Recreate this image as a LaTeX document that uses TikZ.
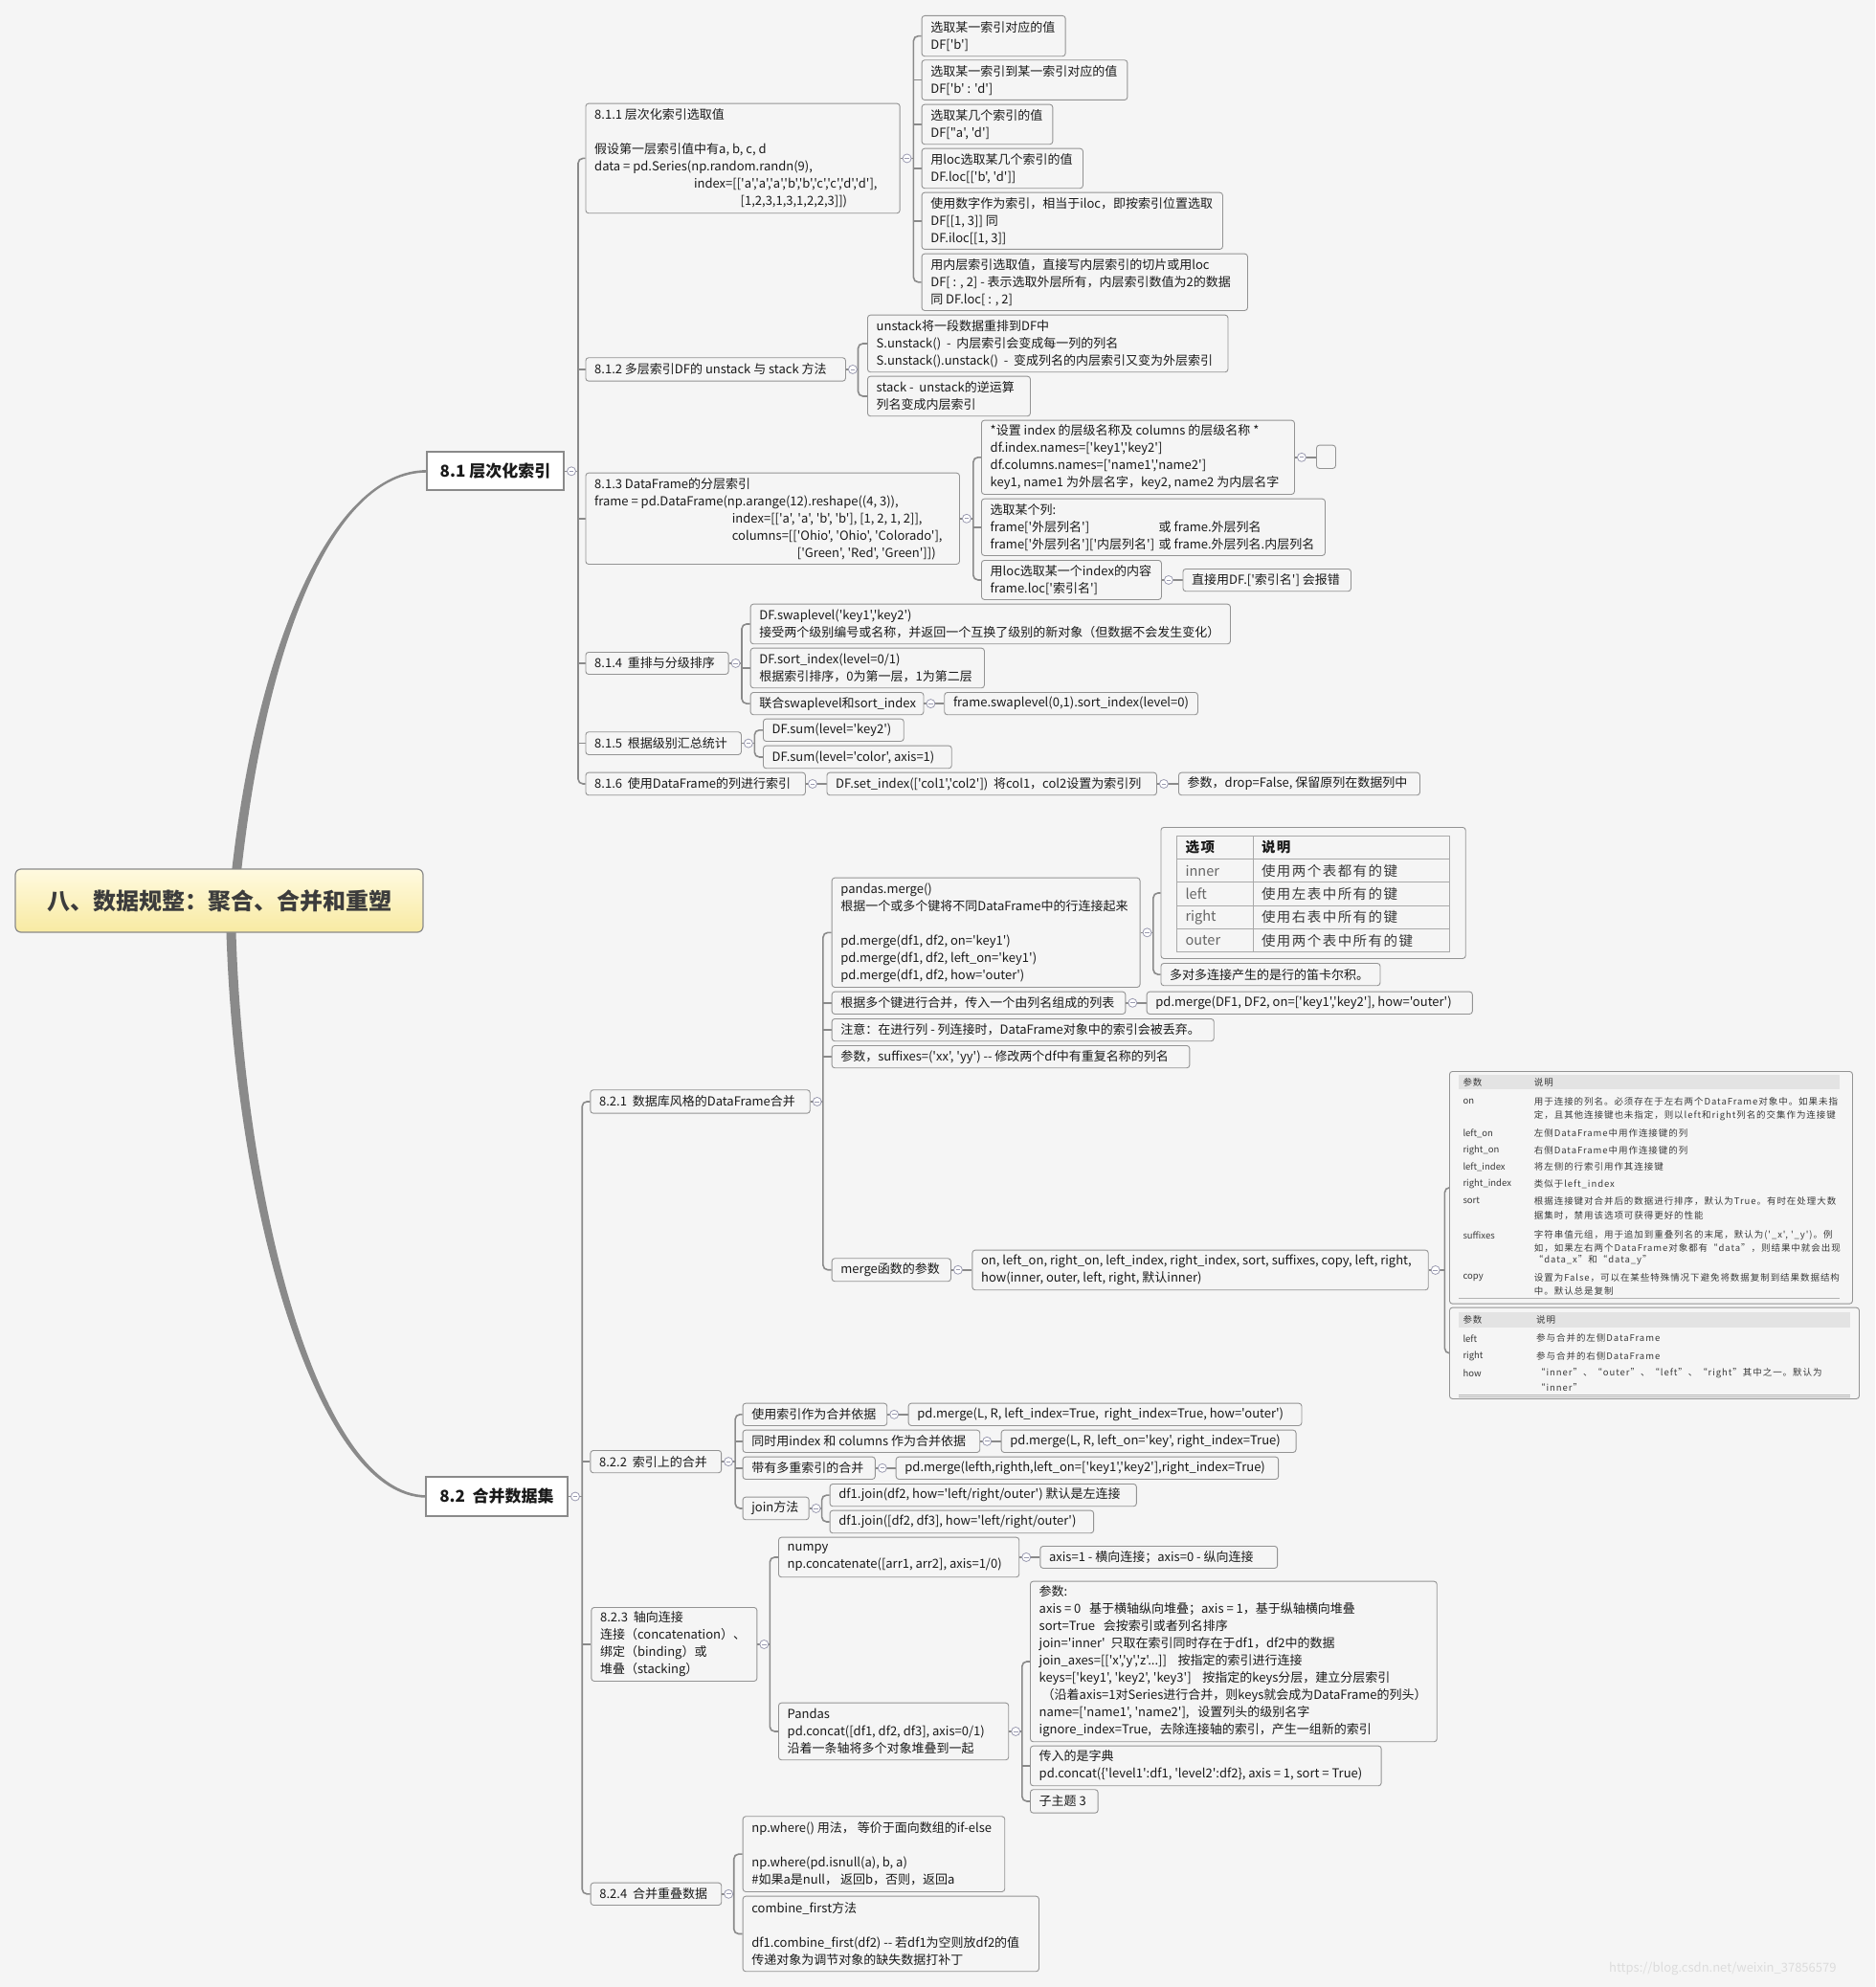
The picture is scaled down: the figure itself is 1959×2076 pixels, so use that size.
\documentclass[tikz,border=0pt]{standalone}
\usepackage{fontspec}
\setmainfont[Ligatures=TeXOff]{Noto Sans CJK SC}
\newfontfamily\tabfont[Ligatures=TeXOff,LetterSpace=10]{Noto Sans CJK SC}
\usetikzlibrary{backgrounds}
\definecolor{bgc}{HTML}{F5F5F5}
\definecolor{linec}{HTML}{8A8A8A}
\definecolor{boxc}{HTML}{939393}
\definecolor{txtc}{HTML}{1A1A1A}
\definecolor{togc}{HTML}{9A9AB0}
\definecolor{hdrc}{HTML}{E3E3E3}
\definecolor{rootc}{HTML}{3C3C3C}
\definecolor{ytop}{HTML}{FFFAE0}
\definecolor{ybot}{HTML}{F8EAA2}
\definecolor{tabc}{HTML}{3A3A3A}
\definecolor{wmc}{HTML}{DCDCDC}
\tikzset{
 conn/.style={draw=linec, line width=1.6pt},
 cbox/.style={draw=boxc, fill=bgc, line width=0.9pt, rounded corners=3pt, inner sep=0pt},
 txt/.style={font=\fontsize{13}{18}\selectfont, align=left, inner sep=0pt, text=txtc},
 tabtxt/.style={font=\tabfont\fontsize{9.5}{12}\selectfont, inner sep=0pt, text=tabc, anchor=west},
 tabkey/.style={font=\fontsize{9.5}{12}\selectfont, inner sep=0pt, text=tabc, anchor=west},
 bigtab/.style={font=\tabfont\fontsize{14.5}{18}\selectfont, inner sep=0pt, text=tabc, anchor=west},
 bigkey/.style={font=\fontsize{14.5}{18}\selectfont, inner sep=0pt, text=black!60, anchor=west},
 tabline/.style={draw=boxc!80, line width=0.8pt},
 tog/.style={circle, draw=togc, fill=white, line width=0.8pt, minimum size=9pt, inner sep=0pt,
   path picture={\draw[togc, line width=0.8pt] ([xshift=-2.3pt]path picture bounding box.center) -- ([xshift=2.3pt]path picture bounding box.center);}},
 sect/.style={draw=linec, fill=white, line width=2pt, inner sep=0pt, font=\fontsize{17}{20}\selectfont\bfseries, text=txtc},
 rootbox/.style={draw=linec, line width=1.2pt, rounded corners=6pt, top color=ytop, bottom color=ybot, font=\fontsize{24}{28}\selectfont\bfseries, text=rootc, inner sep=0pt},
}
\newcommand\tb[6]{%
  \pgfmathsetmacro\tbw{#4-#2}%
  \pgfmathsetmacro\tbh{#5-#3}%
  \node[cbox, anchor=north west, minimum width=\tbw pt, minimum height=\tbh pt] (#1) at (#2,#3) {};%
  \node[txt, anchor=west] (#1t) at ([xshift=9.5pt]#1.west) {#6};%
}
\newcommand\tg[2]{\node[tog] (#1) at ([xshift=7pt]#2.east) {};}
\newcommand\grp[6]{%
  \draw[conn] (#1.east) -- (#2.center) -- (#2 -| #3);%
  \draw[conn,rounded corners=5pt] (#4.west) -| (#3 |- #5.west) -- (#5.west);%
  \foreach \n in {#6} {\draw[conn] (#3 |- \n.west) -- (\n.west);}%
}
\newcommand\grptwo[5]{%
  \draw[conn] (#1.east) -- (#2.center) -- (#2 -| #3);%
  \draw[conn,rounded corners=5pt] (#4.west) -| (#3 |- #5.west) -- (#5.west);%
}
\newcommand\lnk[3]{\draw[conn] (#1.east) -- (#2.center) -- (#2 -| #3.west);}
\begin{document}
\begin{tikzpicture}[x=1pt,y=-1pt]
\useasboundingbox (0,0) rectangle (1959,2076);
\begin{pgfonlayer}{background}
\fill[bgc] (0,0) rectangle (1959,2076);
\end{pgfonlayer}
% ---------------- root and sections
\node[rootbox, minimum width=426pt, minimum height=66pt] (root) at (229,941) {八、数据规整：聚合、合并和重塑};
\node[sect, minimum width=143pt, minimum height=40pt] (s81) at (517.5,492.3) {8.1 层次化索引};
\node[sect, minimum width=148pt, minimum height=41pt] (s82) at (519,1563.5) {8.2\ \ 合并数据集};
% ---------------- 8.1
\tb{s811}{611.5}{107.7}{939.7}{222.3}{8.1.1 层次化索引选取值\\[18pt]假设第一层索引值中有a, b, c, d\\data = pd.Series(np.random.randn(9),\\\hspace*{103.8pt}index=[['a','a','a','b','b','c','c','d','d'],\\\hspace*{152.5pt}[1,2,3,1,3,1,2,2,3]])}
\tb{A1}{962.6}{16}{1112.7}{58.3}{选取某一索引对应的值\\DF['b']}
\tb{A2}{962.6}{62.3}{1177.4}{104}{选取某一索引到某一索引对应的值\\DF['b' : 'd']}
\tb{A3}{962.6}{108.7}{1099.4}{150.3}{选取某几个索引的值\\DF["a', 'd']}
\tb{A4}{962.6}{154.7}{1131}{196.3}{用loc选取某几个索引的值\\DF.loc[['b', 'd']]}
\tb{A5}{962.6}{200.7}{1277}{260}{使用数字作为索引，相当于iloc，即按索引位置选取\\DF[[1, 3]] 同\\DF.iloc[[1, 3]]}
\tb{A6}{962.6}{264.7}{1303}{324}{用内层索引选取值，直接写内层索引的切片或用loc\\DF[ : , 2] - 表示选取外层所有，内层索引数值为2的数据\\同 DF.loc[ : , 2]}
\tb{s812}{611.5}{373.3}{883}{397.7}{8.1.2 多层索引DF的 unstack 与 stack 方法}
\tb{B1}{906}{328.7}{1282.5}{388.3}{unstack将一段数据重排到DF中\\S.unstack()\ \ -\ \ 内层索引会变成每一列的列名\\S.unstack().unstack()\ \ -\ \ 变成列名的内层索引又变为外层索引}
\tb{B2}{906}{392.7}{1076}{434.3}{stack -\ \ unstack的逆运算\\列名变成内层索引}
\tb{s813}{611.5}{493.7}{1002}{589}{8.1.3 DataFrame的分层索引\\frame = pd.DataFrame(np.arange(12).reshape((4, 3)),\\\hspace*{143.7pt}index=[['a', 'a', 'b', 'b'], [1, 2, 1, 2]],\\\hspace*{143.7pt}columns=[['Ohio', 'Ohio', 'Colorado'],\\\hspace*{211.7pt}['Green', 'Red', 'Green']])}
\tb{C1}{1025}{438.7}{1352}{516}{*设置 index 的层级名称及 columns 的层级名称 *\\df.index.names=['key1','key2']\\df.columns.names=['name1','name2']\\key1, name1 为外层名字，key2, name2 为内层名字}
\tb{C1e}{1375}{464.7}{1395}{489}{}
\tb{C2}{1025}{520.7}{1384}{580}{选取某个列:\\\makebox[176pt][l]{frame['外层列名']}或 frame.外层列名\\\makebox[176pt][l]{frame['外层列名']['内层列名']}或 frame.外层列名.内层列名}
\tb{C3}{1025}{585}{1213}{626}{用loc选取某一个index的内容\\frame.loc['索引名']}
\tb{C3a}{1235.5}{594}{1411}{617.3}{直接用DF.['索引名'] 会报错}
\tb{s814}{611.5}{681}{760.7}{704}{8.1.4\ \ 重排与分级排序}
\tb{D1}{783.7}{630.7}{1285}{672.3}{DF.swaplevel('key1','key2')\\接受两个级别编号或名称，并返回一个互换了级别的新对象（但数据不会发生变化）}
\tb{D2}{783.7}{676.7}{1028}{718.3}{DF.sort\_index(level=0/1)\\根据索引排序，0为第一层，1为第二层}
\tb{D3}{783.7}{723}{964.5}{746.3}{联合swaplevel和sort\_index}
\tb{D3a}{986.3}{723}{1251}{746.3}{frame.swaplevel(0,1).sort\_index(level=0)}
\tb{s815}{611.5}{764.3}{774}{788}{8.1.5\ \ 根据级别汇总统计}
\tb{E1}{797}{750.7}{943.8}{774}{DF.sum(level='key2')}
\tb{E2}{797}{778.7}{993.8}{802.3}{DF.sum(level='color', axis=1)}
\tb{s816}{611.5}{806.7}{841}{830.3}{8.1.6\ \ 使用DataFrame的列进行索引}
\tb{F1}{863.5}{806.7}{1208}{830.3}{DF.set\_index(['col1','col2'])\ \ 将col1，col2设置为索引列}
\tb{F2}{1231}{806.7}{1483}{830.3}{参数，drop=False, 保留原列在数据列中}
% ---------------- 8.2.1
\tb{s821}{616.4}{1138.3}{845.8}{1162.7}{8.2.1\ \ 数据库风格的DataFrame合并}
\tb{G1}{868.7}{916.7}{1190.6}{1031}{pandas.merge()\\根据一个或多个键将不同DataFrame中的行连接起来\\[18pt]pd.merge(df1, df2, on='key1')\\pd.merge(df1, df2, left\_on='key1')\\pd.merge(df1, df2, how='outer')}
\node[cbox, anchor=north west, minimum width=318.3pt, minimum height=137pt] (Tab) at (1212.5,864) {};
\draw[tabline] (1229.4,873.3) rectangle (1514.2,994.3);
\foreach \yy in {897.3,921.7,946,970.7} \draw[tabline] (1229.4,\yy) -- (1514.2,\yy);
\draw[tabline] (1308.9,873.3) -- (1308.9,994.3);
\node[bigtab, font=\tabfont\fontsize{14.5}{18}\selectfont\bfseries, text=txtc] (Th1) at (1238.4,885.3) {选项};
\node[bigtab, font=\tabfont\fontsize{14.5}{18}\selectfont\bfseries, text=txtc] (Th2) at (1317.8,885.3) {说明};
\node[bigkey] (Tr1) at (1238.4,909.5) {inner};
\node[bigtab] (Td1) at (1317.8,909.5) {使用两个表都有的键};
\node[bigkey] (Tr2) at (1238.4,933.9) {left};
\node[bigtab] (Td2) at (1317.8,933.9) {使用左表中所有的键};
\node[bigkey] (Tr3) at (1238.4,958.4) {right};
\node[bigtab] (Td3) at (1317.8,958.4) {使用右表中所有的键};
\node[bigkey] (Tr4) at (1238.4,982.5) {outer};
\node[bigtab] (Td4) at (1317.8,982.5) {使用两个表中所有的键};
\tb{G2}{1212.5}{1006}{1441.5}{1029.3}{多对多连接产生的是行的笛卡尔积。}
\tb{G3}{868.7}{1035.7}{1175.4}{1059}{根据多个键进行合并，传入一个由列名组成的列表}
\tb{G3a}{1197.7}{1035.7}{1537.9}{1059}{pd.merge(DF1, DF2, on=['key1','key2'], how='outer')}
\tb{G4}{868.7}{1064}{1267.8}{1087.3}{注意：在进行列 - 列连接时，DataFrame对象中的索引会被丢弃。}
\tb{G5}{868.7}{1092}{1242.4}{1115.3}{参数，suffixes=('xx', 'yy') -- 修改两个df中有重复名称的列名}
\tb{G6}{868.7}{1314.3}{993}{1338.3}{merge函数的参数}
\tb{G6a}{1015.4}{1305.7}{1491.8}{1347.3}{on, left\_on, right\_on, left\_index, right\_index, sort, suffixes, copy, left, right,\\how(inner, outer, left, right, 默认inner)}
% table T1
\node[cbox, anchor=north west, minimum width=421pt, minimum height=242.7pt] (T1) at (1514,1119) {};
\fill[hdrc] (1524,1123.3) rectangle (1921.7,1138.3);
\draw[draw=boxc!70, line width=0.8pt] (1524,1356.7) -- (1921.7,1356.7);
\node[tabtxt] (T1h1) at (1528.3,1130.8) {参数};
\node[tabtxt] (T1h2) at (1602.7,1130.8) {说明};
\node[tabkey] (T1p1) at (1528.3,1151) {on};
\node[tabtxt] (T1d1) at (1602.7,1151) {用于连接的列名。必须存在于左右两个DataFrame对象中。如果未指};
\node[tabtxt] (T1d1b) at (1602.7,1166) {定，且其他连接键也未指定，则以left和right列名的交集作为连接键};
\node[tabkey] (T1p2) at (1528.3,1184) {left\_on};
\node[tabtxt] (T1d2) at (1602.7,1184) {左侧DataFrame中用作连接键的列};
\node[tabkey] (T1p3) at (1528.3,1201.7) {right\_on};
\node[tabtxt] (T1d3) at (1602.7,1201.7) {右侧DataFrame中用作连接键的列};
\node[tabkey] (T1p4) at (1528.3,1219.3) {left\_index};
\node[tabtxt] (T1d4) at (1602.7,1219.3) {将左侧的行索引用作其连接键};
\node[tabkey] (T1p5) at (1528.3,1237) {right\_index};
\node[tabtxt] (T1d5) at (1602.7,1237) {类似于left\_index};
\node[tabkey] (T1p6) at (1528.3,1254.7) {sort};
\node[tabtxt] (T1d6) at (1602.7,1254.7) {根据连接键对合并后的数据进行排序，默认为True。有时在处理大数};
\node[tabtxt] (T1d6b) at (1602.7,1270) {据集时，禁用该选项可获得更好的性能};
\node[tabkey] (T1p7) at (1528.3,1290.3) {suffixes};
\node[tabtxt] (T1d7) at (1602.7,1290.3) {字符串值元组，用于追加到重叠列名的末尾，默认为('\_x', '\_y')。例};
\node[tabtxt] (T1d7b) at (1602.7,1303.5) {如，如果左右两个DataFrame对象都有“data”，则结果中就会出现};
\node[tabtxt] (T1d7c) at (1602.7,1316.7) {“data\_x”和“data\_y”};
\node[tabkey] (T1p8) at (1528.3,1335) {copy};
\node[tabtxt] (T1d8) at (1602.7,1335) {设置为False，可以在某些特殊情况下避免将数据复制到结果数据结构};
\node[tabtxt] (T1d8b) at (1602.7,1348.5) {中。默认总是复制};
% table T2
\node[cbox, anchor=north west, minimum width=428pt, minimum height=95.3pt] (T2) at (1514,1365.7) {};
\fill[hdrc] (1524,1370.7) rectangle (1932.7,1386.7);
\draw[draw=boxc!70, line width=0.8pt] (1524,1457.2) -- (1932.7,1457.2);
\draw[draw=boxc!70, line width=0.8pt] (1524,1459.6) -- (1932.7,1459.6);
\node[tabtxt] (T2h1) at (1528.3,1378.7) {参数};
\node[tabtxt] (T2h2) at (1605,1378.7) {说明};
\node[tabkey] (T2p1) at (1528.3,1398.3) {left};
\node[tabtxt] (T2d1) at (1605,1398.3) {参与合并的左侧DataFrame};
\node[tabkey] (T2p2) at (1528.3,1416.7) {right};
\node[tabtxt] (T2d2) at (1605,1416.7) {参与合并的右侧DataFrame};
\node[tabkey] (T2p3) at (1528.3,1435) {how};
\node[tabtxt] (T2d3) at (1605,1435) {“inner”、“outer”、“left”、“right”其中之一。默认为};
\node[tabtxt] (T2d3b) at (1605,1449.3) {“inner”};
% ---------------- 8.2.2
\tb{s822}{616.4}{1515}{753.2}{1538.3}{8.2.2\ \ 索引上的合并}
\tb{H1}{775.6}{1465.7}{926.3}{1489}{使用索引作为合并依据}
\tb{H1a}{948.7}{1465.7}{1359.5}{1489}{pd.merge(L, R, left\_index=True,\ \ right\_index=True, how='outer')}
\tb{H2}{775.6}{1493.7}{1023.3}{1517}{同时用index 和 columns 作为合并依据}
\tb{H2a}{1045.7}{1493.7}{1353.6}{1517}{pd.merge(L, R, left\_on='key', right\_index=True)}
\tb{H3}{775.6}{1521.7}{913.9}{1545}{带有多重索引的合并}
\tb{H3a}{935.7}{1521.7}{1335.2}{1545}{pd.merge(lefth,righth,left\_on=['key1','key2'],right\_index=True)}
\tb{H4}{775.6}{1563.7}{844.7}{1587.3}{join方法}
\tb{H4a}{866.6}{1550}{1186.9}{1573.3}{df1.join(df2, how='left/right/outer') 默认是左连接}
\tb{H4b}{866.6}{1577.7}{1142.2}{1601.3}{df1.join([df2, df3], how='left/right/outer')}
% ---------------- 8.2.3
\tb{s823}{617.4}{1679}{790.4}{1756}{8.2.3\ \ 轴向连接\\连接（concatenation）、\\绑定（binding）或\\堆叠（stacking）}
\tb{I1}{813}{1605.7}{1064.3}{1647.3}{numpy\\np.concatenate([arr1, arr2], axis=1/0)}
\tb{I1a}{1086.4}{1615}{1334.2}{1638}{axis=1 - 横向连接；axis=0 - 纵向连接}
\tb{I2}{813}{1778.7}{1053.3}{1838.3}{Pandas\\pd.concat([df1, df2, df3], axis=0/1)\\沿着一条轴将多个对象堆叠到一起}
\tb{I2a}{1076}{1651.7}{1500.8}{1819.3}{参数:\\axis = 0\ \ \ 基于横轴纵向堆叠；axis = 1，基于纵轴横向堆叠\\sort=True\ \ \ 会按索引或者列名排序\\join='inner'\ \ 只取在索引同时存在于df1，df2中的数据\\join\_axes=[['x','y','z'...]]\ \ \ \ 按指定的索引进行连接\\keys=['key1', 'key2', 'key3']\ \ \ \ 按指定的keys分层，建立分层索引\\\hspace*{3pt}（沿着axis=1对Series进行合并，则keys就会成为DataFrame的列头）\\name=['name1', 'name2'],\ \ \ 设置列头的级别名字\\ignore\_index=True,\ \ \ 去除连接轴的索引，产生一组新的索引}
\tb{I2b}{1076}{1823.7}{1442.7}{1865.3}{传入的是字典\\pd.concat(\{'level1':df1, 'level2':df2\}, axis = 1, sort = True)}
\tb{I2c}{1076}{1869.3}{1146.7}{1893.7}{子主题 3}
% ---------------- 8.2.4
\tb{s824}{616.7}{1966.7}{753.3}{1990}{8.2.4\ \ 合并重叠数据}
\tb{J1}{775.7}{1897.3}{1049.3}{1976}{np.where() 用法， 等价于面向数组的if-else\\[18pt]np.where(pd.isnull(a), b, a)\\\#如果a是null， 返回b，否则，返回a}
\tb{J2}{775.7}{1980.7}{1085}{2059.3}{combine\_first方法\\[18pt]df1.combine\_first(df2) -- 若df1为空则放df2的值\\传递对象为调节对象的缺失数据打补丁}
% ---------------- toggles
\tg{t81}{s81} \tg{t82}{s82}
\tg{t811}{s811} \tg{t812}{s812} \tg{t813}{s813} \tg{t814}{s814} \tg{t815}{s815} \tg{t816}{s816}
\tg{tC1}{C1} \tg{tC3}{C3} \tg{tD3}{D3} \tg{tF1}{F1}
\tg{t821}{s821} \tg{tG1}{G1} \tg{tG3}{G3} \tg{tG6}{G6} \tg{tG6a}{G6a}
\tg{t822}{s822} \tg{tH1}{H1} \tg{tH2}{H2} \tg{tH3}{H3} \tg{tH4}{H4}
\tg{t823}{s823} \tg{tI1}{I1} \tg{tI2}{I2}
\tg{t824}{s824}
% bracket x positions
\coordinate (k81) at (604,0);
\coordinate (k82) at (608.2,0);
\coordinate (k811) at (954.4,0);
\coordinate (k812) at (896.5,0);
\coordinate (k813) at (1016.8,0);
\coordinate (k814) at (775,0);
\coordinate (k815) at (788.3,0);
\coordinate (k821) at (859.9,0);
\coordinate (kG1) at (1204.9,0);
\coordinate (kG6a) at (1509.4,0);
\coordinate (k822) at (768.1,0);
\coordinate (kH4) at (858.6,0);
\coordinate (k823) at (804.3,0);
\coordinate (kI2) at (1067.8,0);
\coordinate (k824) at (766.7,0);
% watermark
\node[anchor=west, inner sep=0pt, font=\fontsize{13}{15}\selectfont, text=wmc] (wm) at (1681,2057) {https://blog.csdn.net/weixin\_37856579};
% ---------------- connectors
\begin{pgfonlayer}{background}
\fill[linec] (240,930) .. controls (265,680) and (345,491.1) .. (446,491.1) -- (446,493.7) .. controls (345,493.7) and (275,680) .. (250,930) -- cycle;
\fill[linec] (236,955) .. controls (242,1252) and (328,1564.8) .. (446,1564.8) -- (446,1562.2) .. controls (332,1562.2) and (252,1248) .. (246,955) -- cycle;
\grp{s81}{t81}{k81}{s811}{s816}{s812,s813,s814,s815}
\grp{s811}{t811}{k811}{A1}{A6}{A2,A3,A4,A5}
\grptwo{s812}{t812}{k812}{B1}{B2}
\grp{s813}{t813}{k813}{C1}{C3}{C2}
\lnk{C1}{tC1}{C1e}
\lnk{C3}{tC3}{C3a}
\grp{s814}{t814}{k814}{D1}{D3}{D2}
\lnk{D3}{tD3}{D3a}
\grptwo{s815}{t815}{k815}{E1}{E2}
\lnk{s816}{t816}{F1}
\lnk{F1}{tF1}{F2}
\grp{s82}{t82}{k82}{s821}{s824}{s822,s823}
\grp{s821}{t821}{k821}{G1}{G6}{G3,G4,G5}
\grptwo{G1}{tG1}{kG1}{Tab}{G2}
\lnk{G3}{tG3}{G3a}
\lnk{G6}{tG6}{G6a}
\grptwo{G6a}{tG6a}{kG6a}{T1}{T2}
\grp{s822}{t822}{k822}{H1}{H4}{H2,H3}
\lnk{H1}{tH1}{H1a}
\lnk{H2}{tH2}{H2a}
\lnk{H3}{tH3}{H3a}
\grptwo{H4}{tH4}{kH4}{H4a}{H4b}
\grptwo{s823}{t823}{k823}{I1}{I2}
\lnk{I1}{tI1}{I1a}
\grp{I2}{tI2}{kI2}{I2a}{I2c}{I2b}
\grptwo{s824}{t824}{k824}{J1}{J2}
\end{pgfonlayer}
\end{tikzpicture}
\end{document}
